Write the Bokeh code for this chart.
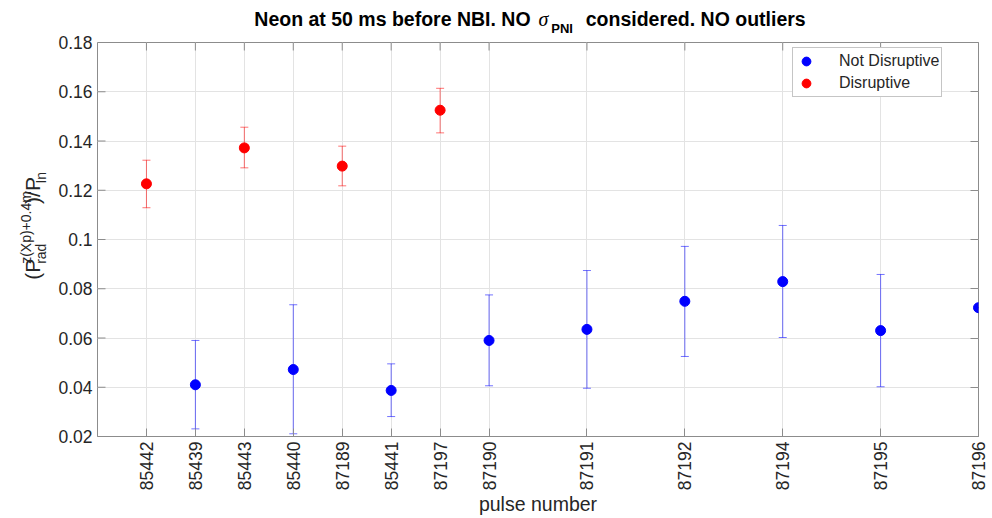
import math
from bokeh.plotting import figure
from bokeh.layouts import row, column
from bokeh.models import (ColumnDataSource, Whisker, TeeHead, FixedTicker, LinearAxis,
                          Legend, LegendItem, Range1d)
from bokeh.core.properties import value
from bokeh.embed import file_html
from bokeh.resources import INLINE

# ---------------- data ----------------
pulses = ["85442", "85439", "85443", "85440", "87189", "85441", "87197",
          "87190", "87191", "87192", "87194", "87195", "87196"]
x_pos = [1, 2, 3, 4, 5, 6, 7, 8, 10, 12, 14, 16, 18]

dis_x = [1, 3, 5, 7]
dis_y = [0.1226, 0.1372, 0.1298, 0.1525]
dis_lo = [0.1129, 0.1291, 0.1218, 0.1433]
dis_hi = [0.1322, 0.1456, 0.1379, 0.1614]

nd_x = [2, 4, 6, 8, 10, 12, 14, 16, 18]
nd_y = [0.0410, 0.0472, 0.0387, 0.0590, 0.0635, 0.0749, 0.0829, 0.0630, 0.0723]
nd_lo = [0.0231, 0.0211, 0.0281, 0.0406, 0.0396, 0.0525, 0.0602, 0.0402, 0.0723]
nd_hi = [0.0590, 0.0735, 0.0495, 0.0775, 0.0874, 0.0972, 0.1057, 0.0858, 0.0723]

y_ticks = [0.02, 0.04, 0.06, 0.08, 0.1, 0.12, 0.14, 0.16, 0.18]
y_tick_labels = ["0.02", "0.04", "0.06", "0.08", "0.1", "0.12", "0.14", "0.16", "0.18"]

# ---------------- layout constants ----------------
W, H = 992, 518
LW = 56          # y-label strip width
AW = 41          # y-axis strip width
TH = 40          # title strip height
FL, FR, FT, FB = 97, 978, 42, 436
XMIN, XMAX = 0, 18
YMIN, YMAX = 0.02, 0.18
TXT = "#262626"
AXC = "#8c8c8c"
FONT = "Liberation Sans"
MID = 0.3465     # distance (in em) from the alphabetic baseline to the em-box middle

yr = Range1d(YMIN, YMAX)

# ---------------- main plot ----------------
p = figure(width=W - FL, height=H - TH, x_range=(XMIN, XMAX), y_range=yr,
           title=None, y_axis_location=None,
           output_backend="svg", toolbar_location=None,
           min_border_left=0, min_border_right=W - FR,
           min_border_top=FT - TH, min_border_bottom=H - FB)
p.outline_line_color = AXC
p.outline_line_width = 1
p.background_fill_color = "white"
p.border_fill_color = "white"

p.xgrid.ticker = FixedTicker(ticks=x_pos)
p.ygrid.ticker = FixedTicker(ticks=y_ticks)
for g in (p.xgrid, p.ygrid):
    g.grid_line_color = "#e3e3e3"
    g.grid_line_width = 1

xa = p.xaxis[0]
xa.ticker = FixedTicker(ticks=x_pos)
xa.major_label_overrides = {x: s for x, s in zip(x_pos, pulses)}
xa.major_label_orientation = math.pi / 2
xa.axis_label = "pulse number"
xa.axis_label_standoff = 0
xa.major_label_standoff = 5

right = LinearAxis(ticker=FixedTicker(ticks=y_ticks),
                   major_label_overrides={v: "" for v in y_ticks})
right.major_label_standoff = 0
right.major_label_text_font_size = "1px"
right.axis_line_color = None
p.add_layout(right, "right")

for ax in (xa, right):
    ax.major_tick_line_color = AXC
    ax.major_tick_in = 8
    ax.major_tick_out = 0
    ax.minor_tick_line_color = None
xa.axis_line_color = AXC
xa.major_label_text_font = FONT
xa.major_label_text_font_size = "17.5px"
xa.major_label_text_color = TXT
xa.axis_label_text_font = FONT
xa.axis_label_text_font_size = "19.5px"
xa.axis_label_text_font_style = "normal"
xa.axis_label_text_color = TXT

# inner tick marks along the top and left edges of the box
p.ray(x=x_pos, y=[YMAX] * len(x_pos), length=8, length_units="screen",
      angle=-math.pi / 2, line_color=AXC, line_width=1)
p.ray(x=[XMIN] * len(y_ticks), y=y_ticks, length=8, length_units="screen",
      angle=0, line_color=AXC, line_width=1)

src_nd = ColumnDataSource(dict(x=nd_x, y=nd_y, lo=nd_lo, hi=nd_hi))
src_d = ColumnDataSource(dict(x=dis_x, y=dis_y, lo=dis_lo, hi=dis_hi))

for src, col in ((src_nd, "#0000ff"), (src_d, "#ff0000")):
    w = Whisker(source=src, base="x", lower="lo", upper="hi", dimension="height",
                line_color=col, line_alpha=0.55, line_width=1,
                upper_head=TeeHead(size=8, line_color=col, line_alpha=0.55, line_width=1),
                lower_head=TeeHead(size=8, line_color=col, line_alpha=0.55, line_width=1))
    p.add_layout(w)

r_nd = p.scatter("x", "y", source=src_nd, size=10, fill_color="#0000ff",
                 line_color="#0000ff")
r_d = p.scatter("x", "y", source=src_d, size=10, fill_color="#ff0000",
                line_color="#ff0000")

legend = Legend(items=[LegendItem(label="Not Disruptive", renderers=[r_nd]),
                       LegendItem(label="Disruptive", renderers=[r_d])],
                location=(792 - FL, FB - 97))
legend.label_text_font = FONT
legend.label_text_font_size = "16px"
legend.label_text_color = TXT
legend.glyph_width = 22
legend.glyph_height = 22
legend.spacing = -1
legend.padding = 2
legend.margin = 0
legend.label_standoff = 22
legend.border_line_color = AXC
legend.border_line_width = 1
legend.background_fill_color = "white"
legend.background_fill_alpha = 1
p.add_layout(legend)

# ---------------- y-axis strip (real axis sharing the y range) ----------------
af = figure(width=AW, height=H, y_range=yr, x_range=(0, 1), title=None,
            x_axis_type=None, output_backend="svg", toolbar_location=None,
            min_border_left=0, min_border_right=0,
            min_border_top=FT, min_border_bottom=H - FB)
af.outline_line_color = None
af.grid.visible = False
af.background_fill_color = "white"
af.border_fill_color = "white"
ya = af.yaxis[0]
ya.ticker = FixedTicker(ticks=y_ticks)
ya.major_label_overrides = {v: s for v, s in zip(y_ticks, y_tick_labels)}
ya.axis_line_color = None
ya.major_tick_line_color = None
ya.major_tick_in = 0
ya.major_tick_out = 0
ya.minor_tick_line_color = None
ya.major_label_standoff = 5
ya.major_label_text_font = FONT
ya.major_label_text_font_size = "17.5px"
ya.major_label_text_color = TXT


def strip(width, height, x0):
    f = figure(width=width, height=height, title=None, output_backend="svg",
               toolbar_location=None,
               x_range=Range1d(x0, x0 + width), y_range=Range1d(0, height),
               x_axis_type=None, y_axis_type=None,
               min_border=0, min_border_left=0, min_border_right=0,
               min_border_top=0, min_border_bottom=0)
    f.outline_line_color = None
    f.grid.visible = False
    f.background_fill_color = "white"
    f.border_fill_color = "white"
    return f


def txt(f, text, x, y, size, style="normal", align="left", font=FONT,
        angle=0.0, color="black", baseline="middle"):
    f.text(x=[x], y=[y], text=[text], angle=angle, text_font=value(font),
           text_font_size=value(f"{size}px"), text_font_style=value(style),
           text_align=value(align), text_baseline=value(baseline),
           text_color=color)


# ---------------- title strip (pixel coords: x = px, y = TH - py) ----------------
tf = strip(W - FL, TH, FL)
TS = 19.5
txt(tf, "Neon at 50 ms before NBI. NO", 537, TH - (25 - MID * TS), TS, "bold", "right")
txt(tf, "\u03c3", 545, TH - (25 - MID * 20), 20, "italic", "left", font="Liberation Serif")
txt(tf, "PNI", 558, TH - (33 - MID * 13), 13, "bold", "left")
txt(tf, "considered. NO outliers", 593, TH - (25 - MID * TS), TS, "bold", "left")

# ---------------- y-label strip (pixel coords: x = px, y = H - py) ----------------
lf = strip(LW, H, 0)
A = math.pi / 2
MS, SS = 21, 14
y0 = 312
GAP = 6          # keeps ")/P" clear of the superscript
w_open = (333 + 667) / 1000 * MS
w_sup = 5196 / 1000 * SS + GAP
w_close = (333 + 278 + 667) / 1000 * MS
SHIFT = 8        # rotated alphabetic text is drawn this much further right
B_MAIN, B_SUP, B_SUB = 40 - SHIFT, 33.5 - SHIFT, 48 - SHIFT
txt(lf, "(P", B_MAIN, H - y0, MS, angle=A, color=TXT, baseline="alphabetic")
txt(lf, "z(Xp)+0.4m", B_SUP, H - (y0 - w_open), SS, angle=A, color=TXT,
    baseline="alphabetic")
txt(lf, "rad", B_SUB, H - (y0 - w_open), SS, angle=A, color=TXT, baseline="alphabetic")
txt(lf, ")/P", B_MAIN, H - (y0 - w_open - w_sup), MS, angle=A, color=TXT,
    baseline="alphabetic")
txt(lf, "In", B_SUB, H - (y0 - w_open - w_sup - w_close), SS, angle=A, color=TXT,
    baseline="alphabetic")

layout = row(lf, af, column(tf, p, spacing=0), spacing=0)
open("out.html", "w").write(file_html(layout, INLINE))
